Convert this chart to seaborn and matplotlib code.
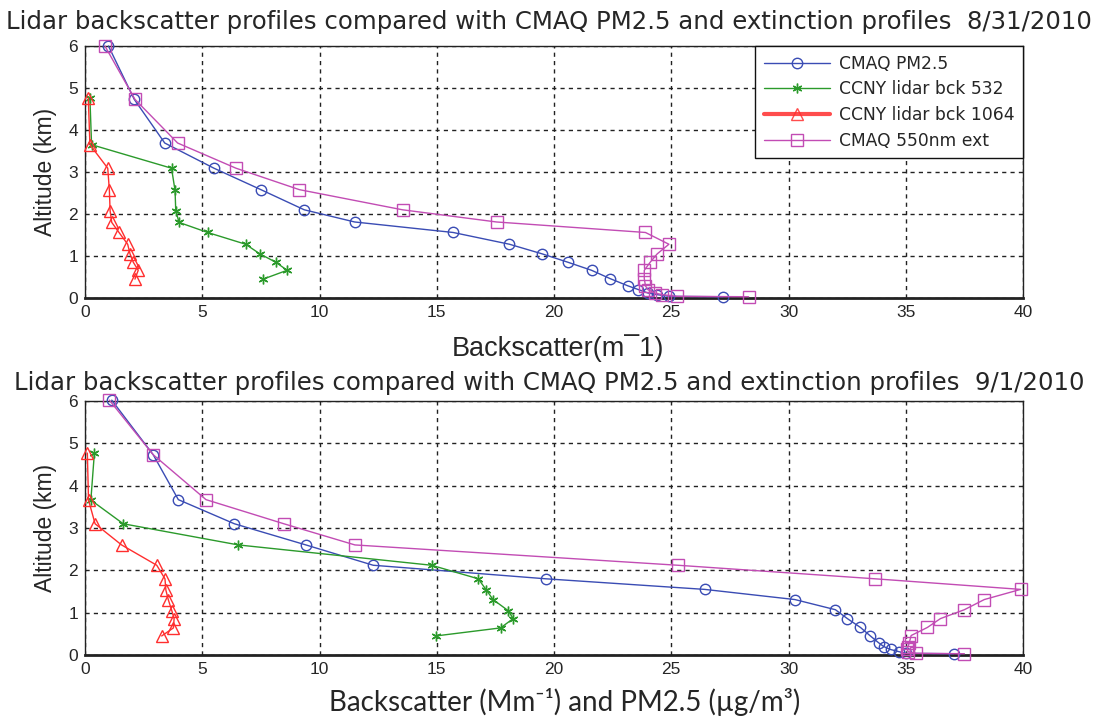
import matplotlib
matplotlib.use("Agg")
import matplotlib.pyplot as plt
import seaborn as sns
import pandas as pd
from matplotlib.lines import Line2D

# ---------------- data ----------------
# 8/31/2010
cmaq_alt_0831 = [6.0, 4.73, 3.69, 3.09, 2.58, 2.10, 1.81, 1.56, 1.28, 1.05, 0.85, 0.66, 0.46, 0.29, 0.20, 0.12, 0.08, 0.04, 0.03]
pm25_0831 = [1.0, 2.1, 3.4, 5.5, 7.5, 9.35, 11.5, 15.7, 18.1, 19.5, 20.6, 21.6, 22.4, 23.15, 23.6, 24.0, 24.4, 24.9, 27.2]
ext_0831 = [0.85, 2.13, 3.95, 6.44, 9.14, 13.54, 17.55, 23.9, 24.9, 24.4, 24.1, 23.85, 23.85, 23.9, 24.0, 24.3, 24.6, 25.25, 28.3]
lidar_alt_0831 = [4.76, 3.65, 3.09, 2.56, 2.08, 1.80, 1.56, 1.28, 1.05, 0.85, 0.66, 0.45]
bck532_0831 = [0.21, 0.28, 3.69, 3.84, 3.87, 4.01, 5.23, 6.85, 7.46, 8.14, 8.62, 7.6]
bck1064_0831 = [0.14, 0.21, 0.97, 1.04, 1.07, 1.14, 1.45, 1.82, 1.92, 2.06, 2.27, 2.13]

# 9/1/2010
cmaq_alt_0901 = [6.02, 4.73, 3.67, 3.10, 2.60, 2.12, 1.80, 1.55, 1.31, 1.07, 0.86, 0.65, 0.46, 0.29, 0.20, 0.13, 0.08, 0.04, 0.03]
pm25_0901 = [1.14, 2.91, 3.98, 6.37, 9.42, 12.29, 19.65, 26.42, 30.27, 32.0, 32.51, 33.07, 33.47, 33.84, 34.06, 34.35, 34.7, 35.0, 37.04]
ext_0901 = [1.04, 2.91, 5.16, 8.48, 11.51, 25.28, 33.69, 39.9, 38.35, 37.5, 36.48, 35.92, 35.23, 35.15, 35.1, 35.06, 35.1, 35.45, 37.5]
lidar_alt_0901 = [4.77, 3.66, 3.10, 2.60, 2.12, 1.80, 1.53, 1.31, 1.05, 0.86, 0.64, 0.45]
bck532_0901 = [0.4, 0.25, 1.63, 6.54, 14.78, 16.77, 17.12, 17.4, 18.04, 18.26, 17.72, 14.96]
bck1064_0901 = [0.1, 0.15, 0.43, 1.56, 3.06, 3.41, 3.45, 3.55, 3.7, 3.8, 3.77, 3.27]

series_labels = ["CMAQ PM2.5", "CCNY lidar bck 532", "CCNY lidar bck 1064", "CMAQ 550nm ext"]
titles = ["Lidar backscatter profiles compared with CMAQ PM2.5 and extinction profiles  8/31/2010",
          "Lidar backscatter profiles compared with CMAQ PM2.5 and extinction profiles  9/1/2010"]
x_ticks = [0, 5, 10, 15, 20, 25, 30, 35, 40]
y_ticks = [0, 1, 2, 3, 4, 5, 6]

# ---------------- style ----------------
sns.set_style("white")
plt.rcParams["font.family"] = ["DejaVu Sans"]

colors = ["#3a4cb4", "#2b9a2b", "#ff2e2e", "#c24cb4"]
markers = ["o", (6, 2, 0), "^", "s"]
msizes = [7.5, 7, 9, 8]

fig = plt.figure(figsize=(10.94, 7.2), dpi=100)
W, H = 1094, 720
def ax_rect(l, t, r, b):
    return [l / W, 1 - b / H, (r - l) / W, (b - t) / H]

ax_top = fig.add_axes(ax_rect(85, 46, 1023, 298))
ax_bot = fig.add_axes(ax_rect(85, 401, 1023, 655))

days = [
    (ax_top, [(pm25_0831, cmaq_alt_0831), (bck532_0831, lidar_alt_0831),
              (bck1064_0831, lidar_alt_0831), (ext_0831, cmaq_alt_0831)]),
    (ax_bot, [(pm25_0901, cmaq_alt_0901), (bck532_0901, lidar_alt_0901),
              (bck1064_0901, lidar_alt_0901), (ext_0901, cmaq_alt_0901)]),
]

for ax, sers in days:
    for i, (xv, yv) in enumerate(sers):
        df = pd.DataFrame({"x": xv, "y": yv})
        sns.lineplot(data=df, x="x", y="y", ax=ax, sort=False, estimator=None,
                     color=colors[i], linewidth=1.0, marker=markers[i],
                     markersize=msizes[i], markerfacecolor="none",
                     markeredgecolor=colors[i], markeredgewidth=1.0,
                     clip_on=False, zorder=3)
    ax.set_xlim(0, 40)
    ax.set_ylim(0, 6)
    ax.set_xticks(x_ticks)
    ax.set_yticks(y_ticks)
    ax.tick_params(direction="in", length=4, width=1, labelsize=12.5, pad=5)
    for lab in ax.get_xticklabels() + ax.get_yticklabels():
        lab.set_family("Liberation Sans")
    ax.grid(True, color="#222222", linestyle=(0, (3, 3)), linewidth=1.0)
    for s in ax.spines.values():
        s.set_color("#222222")
        s.set_linewidth(1.0)
    ax.spines["bottom"].set_linewidth(2.0)
    ax.set_xlabel("")
    ax.set_ylabel("Altitude (km)", fontsize=16.5, family="Liberation Sans", labelpad=8)

# titles
fig.text(549 / W, 1 - 22 / H, titles[0], ha="center", va="center", fontsize=17.6, family="DejaVu Sans")
fig.text(549 / W, 1 - 383 / H, titles[1], ha="center", va="center", fontsize=17.6, family="DejaVu Sans")

# x labels
fig.text(558 / W, 1 - 348 / H, "Backscatter(m\u00af1)", ha="center", va="center",
         fontsize=19.5, family="Liberation Sans")
fig.text(565 / W, 1 - 702 / H, "Backscatter (Mm\u207b\u00b9) and PM2.5 (\u00b5g/m\u00b3)",
         ha="center", va="center", fontsize=20, family=["Lato", "DejaVu Sans"])

# legend
handles = [Line2D([0], [0], color=colors[i], lw=1.0 if i != 2 else 3.0, marker=markers[i],
                  markersize=msizes[i], markerfacecolor="none", markeredgecolor=colors[i],
                  markeredgewidth=1.0, alpha=1.0 if i != 2 else 0.85) for i in range(4)]
leg = ax_top.legend(handles, series_labels, loc="upper right", bbox_to_anchor=(1, 1),
                    borderaxespad=0, frameon=True, fancybox=False, framealpha=1,
                    edgecolor="#111111", fontsize=12.3, handlelength=3.9,
                    handletextpad=0.5, labelspacing=0.45, borderpad=0.5)
leg.get_frame().set_linewidth(1.0)
leg.set_zorder(5)

fig.savefig("out.png", dpi=100)
